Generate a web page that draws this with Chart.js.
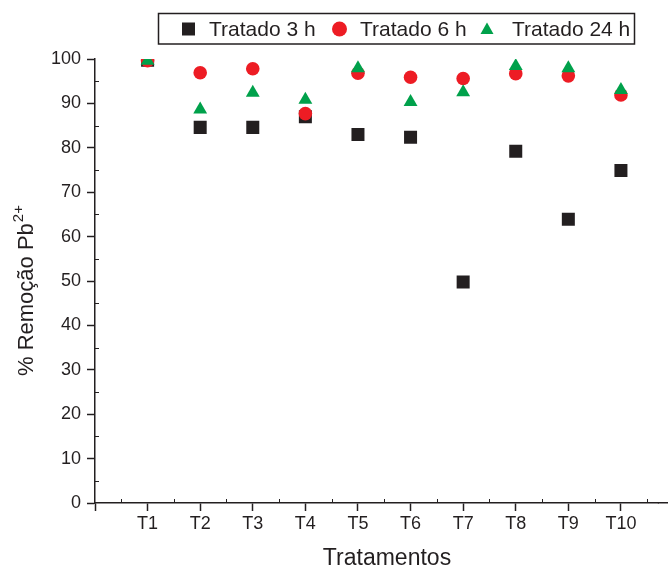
<!DOCTYPE html>
<html>
<head>
<meta charset="utf-8">
<script src="https://cdn.jsdelivr.net/npm/chart.js@4/dist/chart.umd.min.js"></script>
<style>
  html, body { margin: 0; padding: 0; background: #fff; }
  #wrap { width: 668px; height: 568px; }
</style>
</head>
<body>
<div id="wrap"><canvas id="grafico" width="668" height="568"></canvas></div>
<script>
// dados
var tratamentos = ['T1', 'T2', 'T3', 'T4', 'T5', 'T6', 'T7', 'T8', 'T9', 'T10'];
var tratado3h  = [99.7, 84.6, 84.6, 87.0, 83.0, 82.4, 49.8, 79.2, 63.9, 74.9];
var tratado6h  = [99.6, 96.9, 97.8, 87.7, 96.8, 95.9, 95.6, 96.7, 96.2, 91.9];
var tratado24h = [99.6, 88.6, 92.4, 90.8, 97.9, 90.3, 92.5, 98.4, 97.9, 93.0];
var nomes = ['Tratado 3 h', 'Tratado 6 h', 'Tratado 24 h'];
var yTicks = [0, 10, 20, 30, 40, 50, 60, 70, 80, 90, 100];

var fonte = '"Liberation Sans", Arial, Helvetica, sans-serif';
var preto = '#231f20';
var vermelho = '#ed1c24';
var verde = '#00a14b';

function pontos(valores) {
  return valores.map(function(v, i) { return { x: i + 1, y: v }; });
}

// ticks menores, titulos dos eixos e legenda com moldura
var extras = {
  id: 'extras',
  afterDraw: function(chart) {
    var ctx = chart.ctx;
    var xs = chart.scales.x, ys = chart.scales.y;
    var area = chart.chartArea;
    ctx.save();
    ctx.strokeStyle = preto;

    // eixo x continua ate a borda
    ctx.lineWidth = 1.5;
    var yb = Math.round(area.bottom - 0.75) + 0.75;
    ctx.beginPath();
    ctx.moveTo(area.right - 1, yb);
    ctx.lineTo(chart.width, yb);
    ctx.stroke();

    ctx.lineWidth = 1;
    // ticks menores do eixo y (para dentro)
    for (var v = 5; v < 100; v += 10) {
      var py = Math.round(ys.getPixelForValue(v)) + 0.5;
      ctx.beginPath();
      ctx.moveTo(area.left, py);
      ctx.lineTo(area.left + 4, py);
      ctx.stroke();
    }
    // ticks menores do eixo x (para dentro)
    for (var k = 0.5; k < 11; k += 1) {
      var px = Math.round(xs.getPixelForValue(k)) + 0.5;
      if (px > chart.width) break;
      ctx.beginPath();
      ctx.moveTo(px, area.bottom);
      ctx.lineTo(px, area.bottom - 4);
      ctx.stroke();
    }

    ctx.fillStyle = preto;
    // titulo eixo x
    ctx.font = '23px ' + fonte;
    ctx.textAlign = 'center';
    ctx.textBaseline = 'alphabetic';
    ctx.fillText('Tratamentos', 387, 565);

    // titulo eixo y com sobrescrito
    ctx.save();
    ctx.translate(33, 376);
    ctx.rotate(-Math.PI / 2);
    ctx.textAlign = 'left';
    ctx.font = '22px ' + fonte;
    var principal = '% Remoção Pb';
    ctx.fillText(principal, 0, 0);
    var w = ctx.measureText(principal).width;
    ctx.font = '15px ' + fonte;
    ctx.fillText('2+', w + 1, -10);
    ctx.restore();

    // legenda
    ctx.lineWidth = 1.5;
    ctx.strokeRect(158.5, 13.5, 476, 30.5);
    ctx.font = '21px ' + fonte;
    ctx.textAlign = 'left';
    ctx.textBaseline = 'alphabetic';
    var cy = 29;
    ctx.fillStyle = preto;
    ctx.fillRect(182, cy - 6.5, 13, 13);
    ctx.fillText(nomes[0], 209, 36);
    ctx.fillStyle = vermelho;
    ctx.beginPath();
    ctx.arc(339.5, cy, 7.5, 0, Math.PI * 2);
    ctx.fill();
    ctx.fillStyle = preto;
    ctx.fillText(nomes[1], 360, 36);
    ctx.fillStyle = verde;
    ctx.beginPath();
    ctx.moveTo(487, cy - 6.5);
    ctx.lineTo(493.5, cy + 5);
    ctx.lineTo(480.5, cy + 5);
    ctx.closePath();
    ctx.fill();
    ctx.fillStyle = preto;
    ctx.fillText(nomes[2], 512, 36);
    ctx.restore();
  }
};

var ctx = document.getElementById('grafico').getContext('2d');
var grafico = new Chart(ctx, {
  type: 'scatter',
  data: {
    datasets: [
      {
        label: nomes[0],
        data: pontos(tratado3h),
        pointStyle: 'rect',
        pointRadius: 9.2,
        backgroundColor: preto,
        borderColor: preto,
        borderWidth: 0,
        order: 3
      },
      {
        label: nomes[1],
        data: pontos(tratado6h),
        pointStyle: 'circle',
        pointRadius: 6.8,
        backgroundColor: vermelho,
        borderColor: vermelho,
        borderWidth: 0,
        order: 2
      },
      {
        label: nomes[2],
        data: pontos(tratado24h),
        pointStyle: 'triangle',
        pointRadius: 8,
        backgroundColor: verde,
        borderColor: verde,
        borderWidth: 0,
        order: 1
      }
    ]
  },
  options: {
    responsive: false,
    animation: false,
    layout: { padding: { top: 59, left: 0, right: 0, bottom: 0 } },
    plugins: {
      legend: { display: false },
      tooltip: { enabled: false }
    },
    scales: {
      x: {
        type: 'linear',
        bounds: 'data',
        min: 0,
        max: 10.72,
        afterFit: function(s) { s.height = 65; s.paddingLeft = 0; s.paddingRight = 0; },
        border: { color: preto, width: 1.5 },
        grid: { drawOnChartArea: false, tickLength: 8, tickColor: preto, tickWidth: 1.5 },
        ticks: {
          stepSize: 1,
          includeBounds: false,
          autoSkip: false,
          maxRotation: 0,
          padding: 2,
          color: preto,
          font: { size: 18, family: fonte },
          callback: function(v) { return tratamentos[v - 1] || ''; }
        }
      },
      y: {
        min: 0,
        max: 100,
        afterFit: function(s) { s.width = 95; s.paddingTop = 0; s.paddingBottom = 0; },
        afterBuildTicks: function(s) { s.ticks = yTicks.map(function(v) { return { value: v }; }); },
        border: { color: preto, width: 1.5 },
        grid: { drawOnChartArea: false, tickLength: 8, tickColor: preto, tickWidth: 1.5 },
        ticks: {
          padding: 6,
          color: preto,
          font: { size: 18, family: fonte }
        }
      }
    }
  },
  plugins: [extras]
});
</script>
</body>
</html>
